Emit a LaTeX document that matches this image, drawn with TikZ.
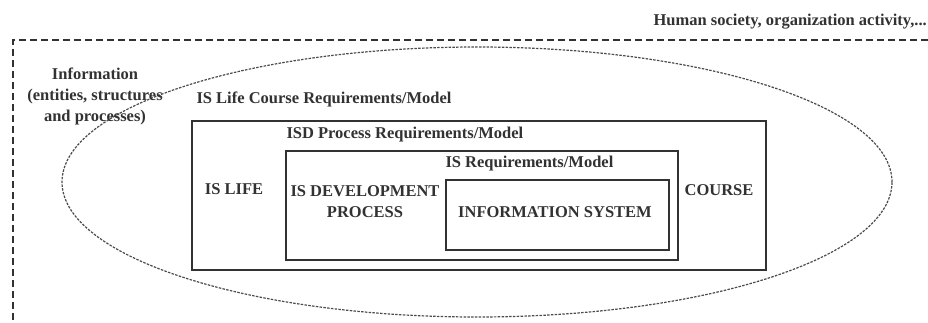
\documentclass[tikz,border=0pt]{standalone}
\usepackage{fontspec}
\setmainfont{Liberation Serif}
\usetikzlibrary{positioning,shapes.geometric}
\definecolor{linegray}{RGB}{50,50,50}
\definecolor{dotgray}{RGB}{75,75,75}
\tikzset{
	lbl/.style={font=\fontsize{16.5}{21}\selectfont\bfseries,text=linegray,inner sep=0pt},
	isbox/.style={draw=linegray,line width=1.4pt,inner sep=0pt},
}
\begin{document}
\begin{tikzpicture}[x=1pt,y=1pt]
		\useasboundingbox (0,0) rectangle (928,322);
		% society frame, open to the right and below
		\draw[linegray,line width=1.1pt,dash pattern=on 7pt off 4pt] (928,282) -- (13,282) -- (13,0);
		\node[lbl,anchor=base east] (society) at (927,296) {Human society, organization activity,...};
		% information ellipse
		\node[ellipse,draw=dotgray,line width=1.2pt,dash pattern=on 2.5pt off 1.3pt,minimum width=830pt,minimum height=270pt,inner sep=0pt] (infoellipse) at (477,140) {};
		\node[lbl,align=center] (info) at (95,225.5) {Information\\(entities, structures\\and processes)};
		% nested boxes
		\node[isbox,minimum width=574pt,minimum height=149pt] (lifebox) at (479,126.5) {};
		\node[isbox,minimum width=392pt,minimum height=109pt] (isdbox) at (482,116.5) {};
		\node[isbox,minimum width=223pt,minimum height=70pt] (isbox) at (557.5,107) {};
		\node[lbl,above right=13pt and 5pt of lifebox.north west] (lifereq) {IS Life Course Requirements/Model};
		\node[lbl,above right=8pt and 1pt of isdbox.north west] (isdreq) {ISD Process Requirements/Model};
		\node[lbl,above right=8pt and 0pt of isbox.north west] (isreq) {IS Requirements/Model};
		\node[lbl] (islife) at (234,133) {IS LIFE};
		\node[lbl,align=center] (isdev) at (365,120) {IS DEVELOPMENT\\PROCESS};
		\node[lbl] (infosys) at (555,110) {INFORMATION SYSTEM};
		\node[lbl] (course) at (719,132) {COURSE};
	\end{tikzpicture}
\end{document}
